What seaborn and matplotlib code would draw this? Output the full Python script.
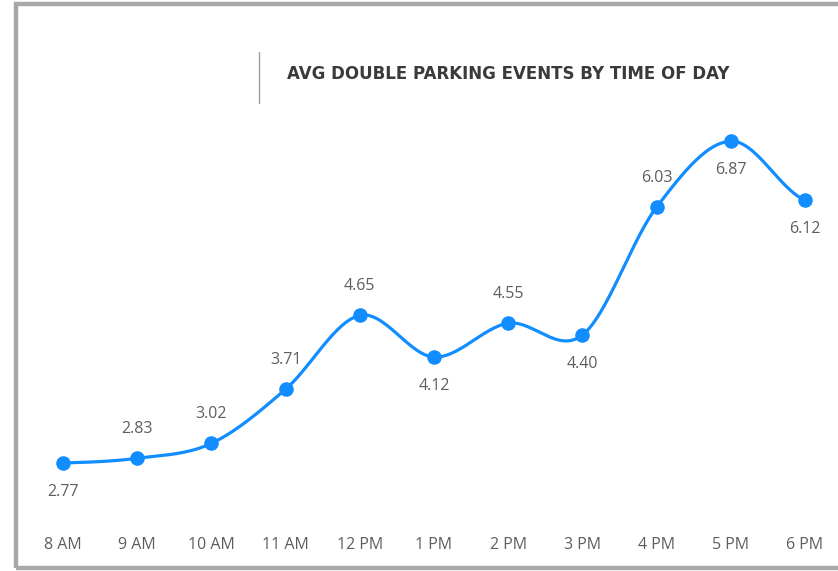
import numpy as np
import pandas as pd
import matplotlib
matplotlib.use("Agg")
import matplotlib.pyplot as plt
from matplotlib.patches import Rectangle
from matplotlib.lines import Line2D
import seaborn as sns

hours = ["8 AM", "9 AM", "10 AM", "11 AM", "12 PM", "1 PM", "2 PM", "3 PM", "4 PM", "5 PM", "6 PM"]
avg_events = [2.77, 2.83, 3.02, 3.71, 4.65, 4.12, 4.55, 4.40, 6.03, 6.87, 6.12]
label_above = [False, True, True, True, True, False, True, False, True, False, False]
title = "AVG DOUBLE PARKING EVENTS BY TIME OF DAY"

BLUE = "#118DFF"
GREY_TXT = "#605E5C"

sns.set_theme(style="white")
plt.rcParams['font.family'] = ['Open Sans', 'DejaVu Sans']

W, H = 838, 571
fig = plt.figure(figsize=(W / 100, H / 100), dpi=100)
fig.patch.set_facecolor("white")

def fx(px):
    return px / W

def fy(py):
    return 1 - py / H

# axes placed in pixel space
ax_l, ax_r, ax_t, ax_b = 20, 838, 100, 520
ax = fig.add_axes([fx(ax_l), fy(ax_b), (ax_r - ax_l) / W, (ax_b - ax_t) / H])
ax.set_facecolor("none")

# smooth curve (Catmull-Rom) through data points
x = np.arange(len(avg_events), dtype=float)
y = np.array(avg_events, dtype=float)
xs, ys = [], []
px = np.concatenate([[x[0]], x, [x[-1]]])
py = np.concatenate([[y[0]], y, [y[-1]]])
for i in range(1, len(px) - 2):
    p0, p1, p2, p3 = py[i - 1], py[i], py[i + 1], py[i + 2]
    for t in np.linspace(0, 1, 30, endpoint=False):
        t2, t3 = t * t, t * t * t
        v = 0.5 * ((2 * p1) + (-p0 + p2) * t + (2 * p0 - 5 * p1 + 4 * p2 - p3) * t2 + (-p0 + 3 * p1 - 3 * p2 + p3) * t3)
        xs.append(px[i] + t * (px[i + 1] - px[i]))
        ys.append(v)
xs.append(x[-1]); ys.append(y[-1])
smooth = pd.DataFrame({"x": xs, "y": ys})
df = pd.DataFrame({"x": x, "y": y, "hour": hours})

sns.lineplot(data=smooth, x="x", y="y", ax=ax, color=BLUE, linewidth=2.3, sort=False)
sns.scatterplot(data=df, x="x", y="y", ax=ax, color=BLUE, s=110, edgecolor=BLUE, linewidth=0, zorder=3)

# pixel scale: x(i) = 63 + 74.2 i ; value v at pixel 463 - (v-2.77)*78.5
x_lo = (ax_l - 63) / 74.2
x_hi = (ax_r - 63) / 74.2
y_lo = 2.77 - (ax_b - 463) / 78.5
y_hi = 2.77 + (463 - ax_t) / 78.5
ax.set_xlim(x_lo, x_hi)
ax.set_ylim(y_lo, y_hi)

for xi, yi, up in zip(x, y, label_above):
    ax.annotate(f"{yi:.2f}", (xi, yi), xytext=(0, 21 if up else -21), textcoords="offset points",
                ha="center", va="center", fontsize=11.5, color=GREY_TXT)

ax.set_xticks(x)
ax.set_xticklabels(hours)
ax.tick_params(axis="x", length=0, labelsize=11.5, labelcolor=GREY_TXT, pad=0)
ax.set_yticks([])
ax.set_xlabel("")
ax.set_ylabel("")
for s in ax.spines.values():
    s.set_visible(False)
# move tick labels to pixel y ~545
for lab in ax.get_xticklabels():
    lab.set_y(0)
ax.xaxis.set_tick_params(pad=(545 - ax_b) * 0.72 - 6)

# title and divider
fig.text(fx(287), fy(74), title, ha="left", va="center", fontsize=12, fontweight="bold",
         color="#3A3A3A", family=["Liberation Sans Narrow", "DejaVu Sans"])
fig.add_artist(Line2D([fx(259), fx(259)], [fy(52), fy(103)], color="#A0A0A0", linewidth=1.0))

# outer frame
fig.add_artist(Rectangle((fx(16), fy(568)), fx(900 - 16), (568 - 4) / H, fill=False,
                         edgecolor="#A8A8A8", linewidth=3.2, transform=fig.transFigure))

fig.savefig("out.png", dpi=100, facecolor="white")
